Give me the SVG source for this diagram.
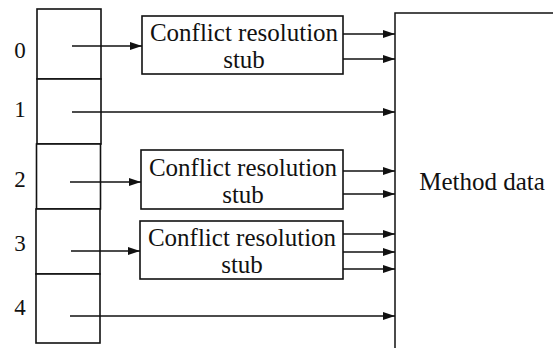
<svg xmlns="http://www.w3.org/2000/svg" width="553" height="348" viewBox="0 0 553 348">
<style>
.ln{stroke:#111;stroke-width:1.5;fill:none}
.bx{stroke:#111;stroke-width:1.6;fill:#fff}
.t{font-family:"Liberation Serif",serif;font-size:25px;fill:#111}
.n{font-family:"Liberation Serif",serif;font-size:23px;fill:#111}
</style>
<defs>
<marker id="ah" markerUnits="userSpaceOnUse" markerWidth="12" markerHeight="8" refX="12" refY="4" orient="auto">
<path d="M0,0 L12,4 L0,8 Z" fill="#111"/>
</marker>
</defs>
<rect width="553" height="348" fill="#fff"/>
<g id="table">
<rect class="bx" x="37" y="9" width="64" height="70"/>
<rect class="bx" x="37" y="79" width="64" height="65"/>
<rect class="bx" x="36.5" y="144" width="64" height="65"/>
<rect class="bx" x="36" y="209" width="64" height="65"/>
<rect class="bx" x="36" y="274" width="64" height="69"/>
<text class="n" x="20" y="58" text-anchor="middle">0</text>
<text class="n" x="20" y="117" text-anchor="middle">1</text>
<text class="n" x="20" y="187" text-anchor="middle">2</text>
<text class="n" x="20" y="251" text-anchor="middle">3</text>
<text class="n" x="20" y="315" text-anchor="middle">4</text>
</g>
<g id="stub0">
<rect class="bx" x="142" y="16" width="201" height="58"/>
<text class="t" x="244" y="41" text-anchor="middle">Conflict resolution</text>
<text class="t" x="244" y="68" text-anchor="middle">stub</text>
</g>
<g id="stub2">
<rect class="bx" x="141" y="150" width="202" height="59"/>
<text class="t" x="243" y="176" text-anchor="middle">Conflict resolution</text>
<text class="t" x="243" y="203" text-anchor="middle">stub</text>
</g>
<g id="stub3">
<rect class="bx" x="140" y="221" width="203" height="58"/>
<text class="t" x="242" y="246" text-anchor="middle">Conflict resolution</text>
<text class="t" x="242" y="273" text-anchor="middle">stub</text>
</g>
<g id="method">
<path class="ln" d="M553,13 H395 V348" stroke-width="1.6"/>
<text class="t" x="482" y="190" text-anchor="middle">Method data</text>
</g>
<g id="connectors" class="ln">
<line x1="72" y1="46" x2="142" y2="46" marker-end="url(#ah)"/>
<line x1="72" y1="112" x2="395" y2="112" marker-end="url(#ah)"/>
<line x1="70" y1="182" x2="141" y2="182" marker-end="url(#ah)"/>
<line x1="71" y1="251" x2="140" y2="251" marker-end="url(#ah)"/>
<line x1="70" y1="316" x2="395" y2="316" marker-end="url(#ah)"/>
<line x1="343" y1="34" x2="395" y2="34" marker-end="url(#ah)"/>
<line x1="343" y1="59" x2="395" y2="59" marker-end="url(#ah)"/>
<line x1="343" y1="171" x2="395" y2="171" marker-end="url(#ah)"/>
<line x1="343" y1="194" x2="395" y2="194" marker-end="url(#ah)"/>
<line x1="343" y1="234" x2="395" y2="234" marker-end="url(#ah)"/>
<line x1="343" y1="252" x2="395" y2="252" marker-end="url(#ah)"/>
<line x1="343" y1="269" x2="395" y2="269" marker-end="url(#ah)"/>
</g>
</svg>
